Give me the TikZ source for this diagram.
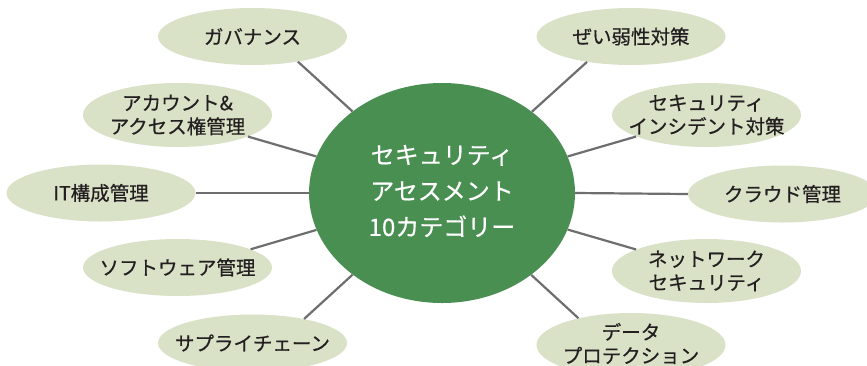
\documentclass[tikz,border=0pt]{standalone}
\usepackage{fontspec}
\setmainfont{Noto Sans CJK JP}[FakeBold=0.5]
\usetikzlibrary{shapes.geometric}
\definecolor{subfill}{RGB}{217,225,199}
\definecolor{mainfill}{RGB}{74,143,82}
\definecolor{linkgray}{RGB}{110,110,112}
\definecolor{txt}{RGB}{35,31,32}
\tikzset{
  subell/.style={ellipse, fill=subfill, draw=none, inner sep=0pt, minimum width=189pt},
  subone/.style={subell, minimum height=57pt},
  subtwo/.style={subell, minimum height=64pt},
  mainell/.style={ellipse, fill=mainfill, draw=none, inner sep=0pt, minimum width=266pt, minimum height=220pt},
  sublbl/.style={align=center, inner sep=0pt, text=txt, font=\fontsize{19.5}{23.5}\selectfont},
  mainlbl/.style={align=center, inner sep=0pt, text=white, font=\fontsize{24}{36}\selectfont},
  link/.style={draw=linkgray, line width=2.2pt}
}
\begin{document}
\begin{tikzpicture}[x=1pt, y=-1pt]
\useasboundingbox (0,0) rectangle (867,365);
\clip (0,0) rectangle (867,365);
% main
\node[mainell] (main) at (442,193) {};
\node[mainlbl] (mainT) at (442,191) {セキュリティ\\アセスメント\\10カテゴリー};
% left
\node[subone] (gov) at (252.5,36.5) {};
\node[subtwo] (acc) at (177.5,115) {};
\node[subone] (it) at (101,193) {};
\node[subone] (soft) at (177.5,267.5) {};
\node[subone] (sup) at (252.5,343) {};
% right
\node[subone] (vul) at (631,36.5) {};
\node[subtwo] (inc) at (706.5,115) {};
\node[subone] (cloud) at (782.5,194) {};
\node[subtwo] (net) at (706.5,271) {};
\node[subtwo] (data) at (631,345) {};
% labels
\node[sublbl] (govT) at (gov) {ガバナンス};
\node[sublbl] (accT) at (acc) {アカウント\&\\アクセス権管理};
\node[sublbl] (itT) at (it) {IT構成管理};
\node[sublbl] (softT) at (soft) {ソフトウェア管理};
\node[sublbl] (supT) at (sup) {サプライチェーン};
\node[sublbl] (vulT) at (vul) {ぜい弱性対策};
\node[sublbl] (incT) at (inc) {セキュリティ\\インシデント対策};
\node[sublbl] (cloudT) at (cloud) {クラウド管理};
\node[sublbl] (netT) at (net) {ネットワーク\\セキュリティ};
\node[sublbl] (dataT) at ([yshift=1.5pt]data) {データ\\プロテクション};
% links
\draw[link] (main) -- (gov.-29.3);
\draw[link] (main) -- (acc.-17);
\draw[link] (main.west) -- (it.east);
\draw[link] (main) -- (soft.14.3);
\draw[link] (main) -- (sup.25.5);
\draw[link] (main) -- (vul.-150.7);
\draw[link] (main) -- (inc.197);
\draw[link] (main.east) -- (cloud.west);
\draw[link] (main) -- (net.163.6);
\draw[link] (main) -- (data.153);
\end{tikzpicture}
\end{document}
